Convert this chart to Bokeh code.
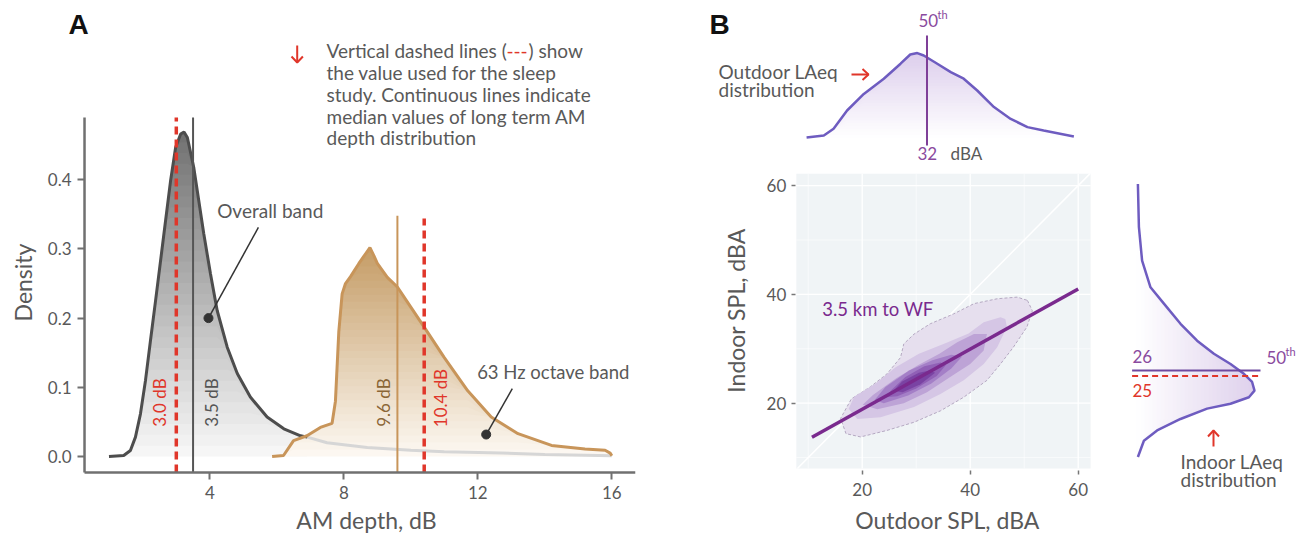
import numpy as np
from bokeh.plotting import figure
from bokeh.models import Range1d, LinearAxis, FixedTicker, NumeralTickFormatter
from bokeh.core.properties import value
from bokeh.embed import file_html
from bokeh.resources import INLINE

# ---------------- Panel A data ----------------
overall_x = [0.99, 1.43, 1.63, 1.78, 1.93, 2.08, 2.23, 2.38, 2.53, 2.68, 2.83, 2.98, 3.13, 3.23,
             3.33, 3.52, 3.67, 3.82, 4.02, 4.22, 4.52, 4.82, 5.21, 5.71, 6.21, 6.71, 6.91]
overall_y = [0.0, 0.0014, 0.0087, 0.028, 0.0617, 0.11, 0.168, 0.225, 0.283, 0.341, 0.399, 0.447,
             0.466, 0.469, 0.461, 0.418, 0.37, 0.322, 0.264, 0.211, 0.158, 0.12, 0.086, 0.057,
             0.04, 0.03, 0.028]
overall_tail_x = [6.91, 7.5, 8.7, 10.0, 11.0, 12.7, 14.0, 16.0]
overall_tail_y = [0.028, 0.02, 0.013, 0.009, 0.007, 0.005, 0.003, 0.001]
octave_x = [5.86, 6.2, 6.5, 6.9, 7.3, 7.65, 7.75, 7.85, 7.95, 8.05, 8.2, 8.45, 8.65, 8.78, 8.9,
            9.0, 9.3, 9.6, 10.0, 10.4, 11.0, 11.7, 12.4, 13.2, 14.2, 15.2, 15.8, 15.95, 16.0]
octave_y = [0.0, 0.0015, 0.023, 0.03, 0.042, 0.048, 0.08, 0.18, 0.235, 0.25, 0.26, 0.279, 0.293,
            0.302, 0.29, 0.279, 0.259, 0.245, 0.216, 0.187, 0.143, 0.095, 0.057, 0.033, 0.016,
            0.011, 0.009, 0.005, 0.001]
study_values = [3.0, 10.4]          # dashed red lines
study_labels = ["3.0 dB", "10.4 dB"]
median_values = [3.5, 9.6]          # continuous lines
median_labels = ["3.5 dB", "9.6 dB"]
a_xticks = [4, 8, 12, 16]
a_yticks = [0.0, 0.1, 0.2, 0.3, 0.4]

# ---------------- Panel B data ----------------
b_ticks = [20, 40, 60]
b_minor = [10, 30, 50]
fit_x = [10.7, 60.0]
fit_y = [13.75, 41.0]
outdoor_x = [9.7, 12.9, 14.7, 17.2, 20.3, 24.0, 27.1, 28.9, 30.2, 31.4, 33.9, 36.4, 38.8, 41.3,
             44.4, 47.5, 50.6, 53.6, 59.2]
outdoor_d = [0.0, 0.001, 0.0044, 0.0135, 0.0218, 0.0294, 0.0369, 0.0415, 0.0422, 0.041, 0.0369,
             0.0327, 0.0294, 0.0235, 0.0152, 0.0093, 0.0052, 0.0035, 0.0005]
indoor_y = [60.3, 52.4, 46.2, 41.3, 38.3, 34.6, 31.5, 29.1, 27.2, 25.4, 23.9, 22.3, 21.1, 19.9,
            19.0, 17.1, 15.0, 13.1, 10.1]
indoor_d = [0.0007, 0.0012, 0.0028, 0.007, 0.0137, 0.022, 0.0303, 0.0387, 0.047, 0.0537, 0.0578,
            0.059, 0.0562, 0.047, 0.0353, 0.022, 0.0103, 0.0037, 0.0007]
outdoor_median = 32
indoor_median = 26
indoor_study = 25

c1_x = [50.6, 51.5, 50.5, 48.0, 45.6, 43.1, 38.8, 34.5, 29.6, 24.6, 19.7, 17.0, 16.0, 18.0, 21.5,
        24.6, 27.1, 27.7, 29.6, 32.6, 36.9, 40.7, 45.0, 48.7]
c1_y = [38.9, 37.0, 34.0, 30.3, 27.2, 24.2, 21.1, 18.6, 16.5, 15.0, 13.8, 14.4, 17.2, 20.8, 23.0,
        25.4, 28.4, 30.9, 32.7, 34.6, 36.4, 38.3, 39.2, 39.5]
c2_x = [46.5, 46.8, 45.0, 42.5, 38.8, 34.5, 29.6, 23.4, 19.1, 17.5, 18.5, 22.5, 26.2, 30.5, 35.4,
        39.7, 42.5, 45.6]
c2_y = [35.5, 34.0, 30.3, 27.2, 24.2, 21.7, 19.3, 17.4, 17.1, 19.0, 21.2, 23.6, 26.6, 29.1, 31.0,
        32.8, 34.9, 35.8]
c3_x = [43.1, 42.5, 40.0, 36.3, 32.0, 27.7, 22.8, 20.1, 22.0, 26.3, 30.4, 34.3, 37.6, 40.7]
c3_y = [32.7, 29.7, 27.2, 24.8, 22.0, 20.0, 18.9, 19.7, 21.5, 24.6, 27.0, 29.1, 31.2, 32.7]
c4_x = [38.5, 36.5, 32.8, 28.5, 24.0, 22.3, 24.3, 28.7, 33.0, 36.5]
c4_y = [28.6, 26.4, 23.6, 21.4, 20.0, 20.6, 23.0, 26.0, 27.9, 28.9]
c5_x = [35.5, 33.8, 30.0, 26.5, 24.3, 25.5, 28.0, 31.5, 34.5]
c5_y = [27.0, 25.0, 22.7, 21.3, 21.1, 22.5, 24.8, 26.8, 27.5]
c6_x = [33.5, 30.8, 27.5, 25.8, 27.4, 30.5, 32.5]
c6_y = [25.6, 23.5, 22.0, 22.3, 24.0, 25.6, 26.0]
contour_colors = ["#e6dfee", "#d5c6e5", "#bda3d6", "#a47fc7", "#9060b6", "#7a43a3"]

# ---------------- styling ----------------
FONT = value("Lato")
GREY_TXT = "#595959"
RED = "#e0362a"
GOLD = "#c8955a"
PURPLE = "#8a4a9e"
CURVE_B = "#6e5cc0"

W, H = 1299, 541
p = figure(width=W, height=H, x_range=Range1d(-2.248, 36.528), y_range=Range1d(-0.1228, 0.6590),
           x_axis_type=None, y_axis_type=None, toolbar_location=None, output_backend="svg",
           min_border=0, outline_line_color=None)
p.extra_x_ranges = {"bx": Range1d(-139.57, 100.98), "rd": Range1d(-0.568, 0.0815),
                    "sx": Range1d(0, 1299)}
p.extra_y_ranges = {"by": Range1d(-5.423, 94.026), "td": Range1d(-0.202, 0.0685),
                    "sy": Range1d(541, 0)}
S = dict(x_range_name="sx", y_range_name="sy")
B = dict(x_range_name="bx", y_range_name="by")
TOP = dict(x_range_name="bx", y_range_name="td")
RIGHT = dict(x_range_name="rd", y_range_name="by")


def mix(c0, c1, t):
    return "#%02x%02x%02x" % tuple(int(round(a + (b - a) * t)) for a, b in zip(c0, c1))


def vbands(x, y, top, c0, c1, n=30, **kw):
    x = np.asarray(x, float); y = np.asarray(y, float)
    lv = np.linspace(0, top, n + 1)
    ov = 0.6 * (lv[1] - lv[0])
    for i in range(n):
        hi = lv[i + 1] + (ov if i < n - 1 else 1.0)
        p.varea(x=x, y1=np.minimum(y, lv[i]), y2=np.minimum(y, hi),
                fill_color=mix(c0, c1, (i + 0.5) / n), **kw)


def hbands(d, y, top, c0, c1, n=30, **kw):
    d = np.asarray(d, float); y = np.asarray(y, float)
    lv = np.linspace(0, top, n + 1)
    ov = 0.6 * (lv[1] - lv[0])
    for i in range(n):
        hi = lv[i + 1] + (ov if i < n - 1 else 1.0)
        p.harea(y=y, x1=np.minimum(d, lv[i]), x2=np.minimum(d, hi),
                fill_color=mix(c0, c1, (i + 0.5) / n), **kw)


def txt(x, y, t, size="19px", color=GREY_TXT, align="left", angle=0.0, style="normal",
        font=FONT, **kw):
    p.text(x=[x], y=[y], text=[t], text_font=font, text_font_size=value(size),
           text_color=color, text_align=align, text_baseline="middle", angle=angle,
           text_font_style=style, **kw)


# ================= Panel A =================
a_bottom, a_left = -0.0231, 0.26
vbands(overall_x, overall_y, 0.47, (248, 248, 248), (112, 112, 112))
vbands(octave_x, octave_y, 0.305, (253, 249, 243), (196, 155, 100))
p.line(overall_tail_x, overall_tail_y, line_color="#d6d6d6", line_width=3)
p.line(overall_x, overall_y, line_color="#4d4d4d", line_width=3)
p.line(octave_x, octave_y, line_color=GOLD, line_width=3)

# medians and study values
p.segment(x0=[median_values[0]], x1=[median_values[0]], y0=[a_bottom], y1=[0.49],
          line_color="#555555", line_width=2)
p.segment(x0=[median_values[1]], x1=[median_values[1]], y0=[a_bottom], y1=[0.348],
          line_color=GOLD, line_width=2)
p.segment(x0=study_values, x1=study_values, y0=[a_bottom, a_bottom], y1=[0.49, 0.344],
          line_color=RED, line_width=3.5, line_dash="8 5")

# axis lines
p.segment(x0=[a_left], x1=[a_left], y0=[a_bottom], y1=[0.49], line_color="#707070", line_width=2.5)
p.segment(x0=[a_left], x1=[16.7], y0=[a_bottom], y1=[a_bottom], line_color="#707070", line_width=2.5)

ax = LinearAxis(fixed_location=a_left, ticker=FixedTicker(ticks=a_yticks),
                formatter=NumeralTickFormatter(format="0.0"))
ax2 = LinearAxis(fixed_location=a_bottom, ticker=FixedTicker(ticks=a_xticks))
for a in (ax, ax2):
    a.axis_line_color = None
    a.major_tick_line_color = "#707070"
    a.major_tick_line_width = 2
    a.major_tick_in = 0
    a.major_tick_out = 7
    a.minor_tick_line_color = None
    a.major_label_text_font = "Lato"
    a.major_label_text_font_size = "17px"
    a.major_label_text_color = GREY_TXT
    a.major_label_standoff = 6
p.add_layout(ax, "left")
p.add_layout(ax2, "below")

# value labels
txt(2.5, 0.078, study_labels[0], size="17px", color=RED, align="center", angle=np.pi / 2)
txt(10.88, 0.0845, study_labels[1], size="17px", color=RED, align="center", angle=np.pi / 2)
txt(4.05, 0.078, median_labels[0], size="17px", color="#555555", align="center", angle=np.pi / 2)
txt(9.19, 0.078, median_labels[1], size="17px", color="#8a6535", align="center", angle=np.pi / 2)

# callouts
p.segment(x0=[3.96, 12.25], y0=[0.2, 0.0318], x1=[5.45, 13.03], y1=[0.331, 0.098],
          line_color="#333333", line_width=1.5)
p.scatter([3.96, 12.25], [0.2, 0.0318], size=9, color="#333333")
txt(4.22, 0.355, "Overall band")
txt(11.98, 0.122, "63 Hz octave band", size="18.5px")

# titles / note (screen coordinates)
txt(78, 24, "A", size="28px", color="#111111", align="center", style="bold",
    font=value("Liberation Sans"), **S)
txt(22, 282, "Density", size="23px", align="center", angle=np.pi / 2, **S)
txt(366, 519, "AM depth, dB", size="23px", align="center", **S)
note = ["the value used for the sleep", "study. Continuous lines indicate",
        "median values of long term AM", "depth distribution"]
txt(326, 50, "Vertical dashed lines (", **S)
txt(506, 50, "---", color=RED, **S)
txt(528, 50, ") show", **S)
for i, t in enumerate(note):
    txt(326, 72 + 21.8 * i, t, **S)
p.multi_line(xs=[[296.7, 296.7], [291, 296.7, 302.4]], ys=[[45, 62], [56, 62, 56]],
             line_color=RED, line_width=2, **S)

# ================= Panel B =================
# panel background, grid
p.quad(left=[7.8], right=[62.3], bottom=[8.0], top=[62.2], fill_color="#f0f4f6",
       line_color=None, **B)
p.segment(x0=b_ticks, x1=b_ticks, y0=[8.0] * 3, y1=[62.2] * 3, line_color="white", line_width=1.3, **B)
p.segment(y0=b_ticks, y1=b_ticks, x0=[7.8] * 3, x1=[62.3] * 3, line_color="white", line_width=1.3, **B)
p.segment(x0=b_minor, x1=b_minor, y0=[8.0] * 3, y1=[62.2] * 3, line_color="white", line_width=0.6, **B)
p.segment(y0=b_minor, y1=b_minor, x0=[7.8] * 3, x1=[62.3] * 3, line_color="white", line_width=0.6, **B)
p.line([8.0, 62.2], [8.0, 62.2], line_color="white", line_width=1.5, **B)

# density contours
p.patch(c1_x, c1_y, fill_color=contour_colors[0], line_color="#b5a9c2", line_dash="3 2",
        line_width=1, **B)
for cx, cy, col in zip([c2_x, c3_x, c4_x, c5_x, c6_x], [c2_y, c3_y, c4_y, c5_y, c6_y],
                       contour_colors[1:]):
    p.patch(cx, cy, fill_color=col, line_color=None, **B)
p.line(fit_x, fit_y, line_color="#7a2a8e", line_width=3.5, **B)
txt(12.6, 37.4, "3.5 km to WF", color="#7a2a8e", size="18.5px", **B)

bx_ax = LinearAxis(x_range_name="bx", y_range_name="by", fixed_location=7.6,
                   ticker=FixedTicker(ticks=b_ticks))
by_ax = LinearAxis(x_range_name="bx", y_range_name="by", fixed_location=7.6,
                   ticker=FixedTicker(ticks=b_ticks))
for a in (bx_ax, by_ax):
    a.axis_line_color = None
    a.major_tick_line_color = "#777777"
    a.major_tick_line_width = 1.5
    a.major_tick_in = 0
    a.major_tick_out = 4
    a.minor_tick_line_color = None
    a.major_label_text_font = "Lato"
    a.major_label_text_font_size = "17px"
    a.major_label_text_color = GREY_TXT
bx_ax.major_label_standoff = 8
by_ax.major_label_standoff = 5
p.add_layout(bx_ax, "below")
p.add_layout(by_ax, "left")

# top marginal (outdoor)
vbands(outdoor_x, outdoor_d, 0.043, (255, 255, 255), (220, 205, 236), **TOP)
p.line(outdoor_x, outdoor_d, line_color=CURVE_B, line_width=2.5, **TOP)
p.segment(x0=[outdoor_median], x1=[outdoor_median], y0=[-0.004], y1=[0.051],
          line_color="#7f3f98", line_width=2, **TOP)

# right marginal (indoor)
hbands(indoor_d, indoor_y, 0.06, (255, 255, 255), (222, 208, 236), **RIGHT)
p.line(indoor_d, indoor_y, line_color=CURVE_B, line_width=2.5, **RIGHT)
p.segment(x0=[-0.0022], x1=[0.062], y0=[indoor_median], y1=[indoor_median],
          line_color="#6e4aa0", line_width=2, **RIGHT)
p.segment(x0=[-0.0022], x1=[0.062], y0=[indoor_study], y1=[indoor_study],
          line_color=RED, line_width=2, line_dash="6 4", **RIGHT)

# texts panel B
txt(719, 24, "B", size="28px", color="#111111", align="center", style="bold",
    font=value("Liberation Sans"), **S)
txt(718, 71, "Outdoor LAeq", **S)
txt(718, 89, "distribution", **S)
p.multi_line(xs=[[851, 868], [862, 868, 862]], ys=[[74, 74], [68.5, 74, 79.5]],
             line_color=RED, line_width=2, **S)
txt(918, 20, "50", size="17px", color=PURPLE, **S)
txt(937, 14, "th", size="11px", color=PURPLE, **S)
txt(917, 153, str(outdoor_median), size="17px", color=PURPLE, **S)
txt(950, 153, "dBA", size="17px", **S)
txt(1132, 356, str(indoor_median), size="17px", color=PURPLE, **S)
txt(1132, 390, str(indoor_study), size="17px", color=RED, **S)
txt(1266, 357, "50", size="17px", color=PURPLE, **S)
txt(1285, 351, "th", size="11px", color=PURPLE, **S)
p.multi_line(xs=[[1213, 1213], [1207.5, 1213, 1218.5]], ys=[[446, 430], [436, 430, 436]],
             line_color=RED, line_width=2, **S)
txt(1180, 461, "Indoor LAeq", **S)
txt(1180, 479, "distribution", **S)
txt(735, 310, "Indoor SPL, dBA", size="23px", align="center", angle=np.pi / 2, **S)
txt(947, 519, "Outdoor SPL, dBA", size="23px", align="center", **S)

open("out.html", "w").write(file_html(p, INLINE))
